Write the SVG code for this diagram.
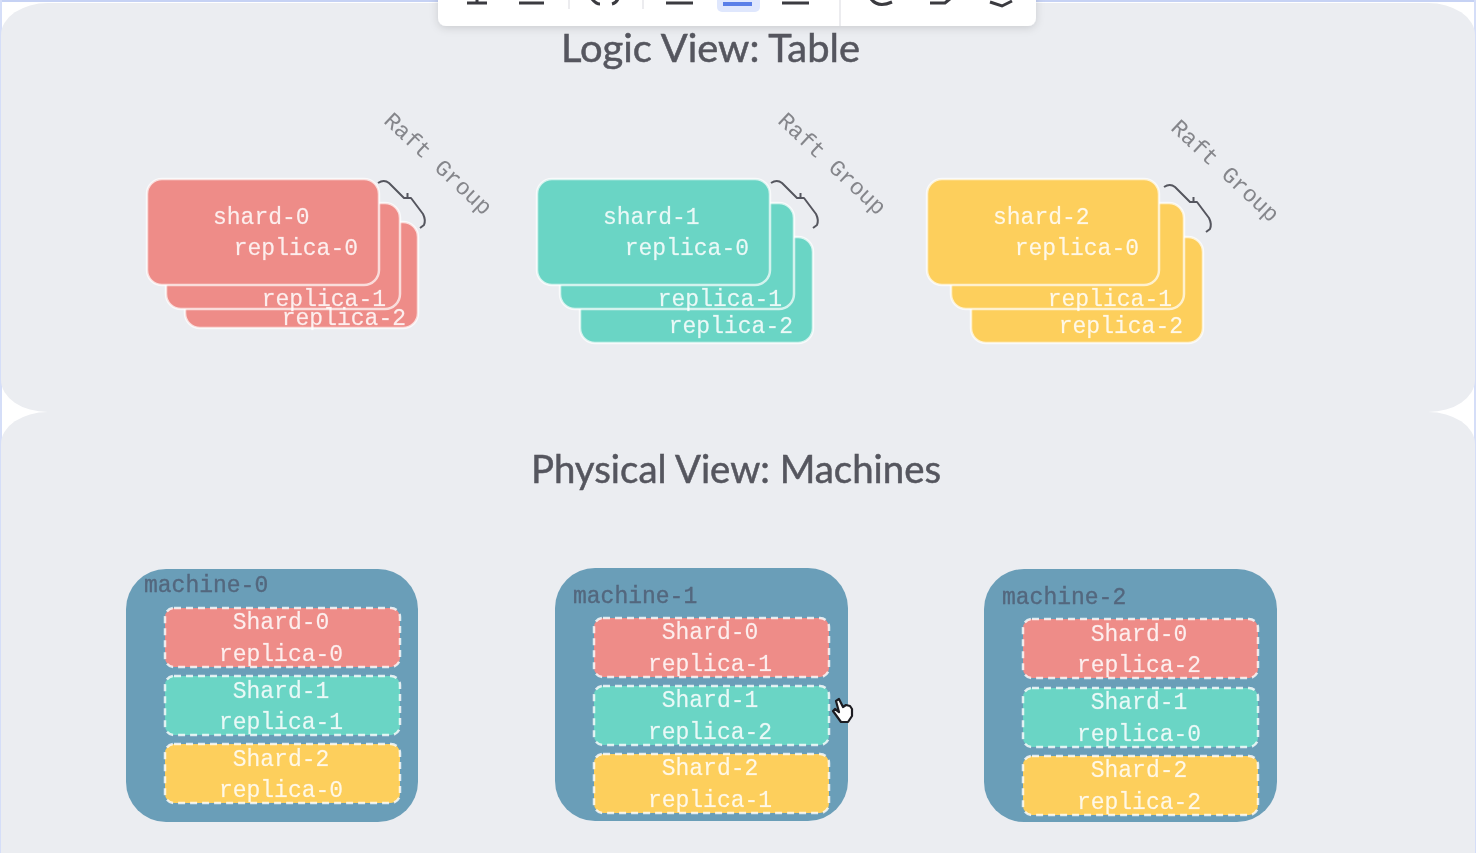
<svg xmlns="http://www.w3.org/2000/svg" width="1476" height="853" viewBox="0 0 1476 853">
<style>
.panel{fill:#ebedf1}
.title{font-family:"Lato","Noto Sans",sans-serif;font-size:38px;fill:#55565e;stroke:#55565e;stroke-width:.5;text-anchor:middle}
.m{font-family:"Liberation Mono",monospace;font-size:23px;fill:#fff;fill-opacity:.85;stroke:#fff;stroke-opacity:.35;stroke-width:.35}
.mid{text-anchor:middle}
.end{text-anchor:end}
.raft{font-family:"Liberation Mono",monospace;font-size:23px;fill:#85868b;text-anchor:middle}
.card{stroke:#fff;stroke-opacity:.7;stroke-width:2.5}
.red{fill:#ee8c88}.teal{fill:#6bd5c5}.yellow{fill:#fdcf5b}
.machine{fill:#6b9eb8}
.mlabel{font-family:"Liberation Mono",monospace;font-size:23px;fill:#53677e;stroke:#53677e;stroke-width:.35}
.slot{stroke:#fff;stroke-opacity:.8;stroke-width:2.5;stroke-dasharray:7 5}
.brace{fill:none;stroke:#55565e;stroke-width:2;stroke-linejoin:round}
.icon{fill:none;stroke:#3a3a40;stroke-width:3}
</style>
<defs>
<filter id="soft" x="-2%" y="-2%" width="104%" height="104%"><feGaussianBlur stdDeviation="0.75"/></filter>
<filter id="sh" x="-5%" y="-50%" width="110%" height="200%"><feDropShadow dx="0" dy="2" stdDeviation="4" flood-color="#000" flood-opacity=".14"/></filter>
<path id="brace" d="M378,183Q384,179 389,183L404,198H411L423,214Q426,220 424,225L420,228M407.5,198V193"/>
</defs>
<rect width="1476" height="853" fill="#fff"/>
<g filter="url(#soft)">
<rect x="0" y="0" width="1476" height="2" fill="#c6d2f4"/>
<rect x="0" y="0" width="2" height="853" fill="#d5def8"/>
<rect x="1474" y="0" width="2" height="853" fill="#d5def8"/>
<g id="panel-logic"><rect class="panel" x="1" y="3" width="1474" height="409" rx="47" ry="32"/></g>
<g id="panel-physical"><rect class="panel" x="1" y="412" width="1474" height="480" rx="47" ry="32"/></g>

<g id="toolbar">
<rect x="438" y="-20" width="598" height="46" rx="8" fill="#fff" filter="url(#sh)"/>
<rect x="717" y="-6" width="43" height="18" rx="5" fill="#dfe7fd"/>
<path class="icon" d="M467,3H487M477,-3V3M519,3H544M592,-1Q596,4 600,4M612,4Q616,3 618,-1M666,3H693M782,3H809M871,-1Q878,8 892,2M930,3L945,3L951,-2M990,2L1002,6L1012,1"/>
<path d="M723,2H752V6H723Z" fill="#5a7fe8"/>
<path d="M569,0V9M643,0V9M840,0V26" stroke="#e6e6ea" stroke-width="1.5"/>
</g>

<text class="title" x="710.5" y="62" textLength="299" lengthAdjust="spacingAndGlyphs">Logic View: Table</text>
<text class="title" x="736" y="483" textLength="410" lengthAdjust="spacingAndGlyphs">Physical View: Machines</text>

<g id="connectors">
<use id="brace-0" class="brace" href="#brace"/>
<use id="brace-1" class="brace" href="#brace" transform="translate(393,0)"/>
<use id="brace-2" class="brace" href="#brace" transform="translate(786,4)"/>
</g>

<g id="group-shard-0">
<rect class="card red" x="185" y="222" width="233" height="106" rx="15"/>
<rect class="card red" x="166" y="203" width="234" height="106" rx="15"/>
<rect class="card red" x="147" y="179" width="232" height="106" rx="15"/>
<text class="m" x="213" y="224">shard-0</text>
<text class="m end" x="358" y="255">replica-0</text>
<text class="m end" x="386" y="306">replica-1</text>
<text class="m end" x="406" y="325">replica-2</text>
<text class="raft" transform="rotate(43 438 164)" x="438" y="171">Raft Group</text>
</g>
<g id="group-shard-1">
<rect class="card teal" x="580" y="237" width="233" height="106" rx="15"/>
<rect class="card teal" x="560" y="203" width="234" height="106" rx="15"/>
<rect class="card teal" x="537" y="179" width="233" height="106" rx="15"/>
<text class="m" x="603" y="224">shard-1</text>
<text class="m end" x="749" y="255">replica-0</text>
<text class="m end" x="782" y="306">replica-1</text>
<text class="m end" x="793" y="333">replica-2</text>
<text class="raft" transform="rotate(43 832 164)" x="832" y="171">Raft Group</text>
</g>
<g id="group-shard-2">
<rect class="card yellow" x="971" y="237" width="232" height="106" rx="15"/>
<rect class="card yellow" x="951" y="203" width="233" height="106" rx="15"/>
<rect class="card yellow" x="927" y="179" width="232" height="106" rx="15"/>
<text class="m" x="993" y="224">shard-2</text>
<text class="m end" x="1139" y="255">replica-0</text>
<text class="m end" x="1172" y="306">replica-1</text>
<text class="m end" x="1183" y="333">replica-2</text>
<text class="raft" transform="rotate(43 1225 171)" x="1225" y="178">Raft Group</text>
</g>

<g id="machine-0">
<rect class="machine" x="126" y="569" width="292" height="253" rx="40"/>
<text class="mlabel" x="144" y="592">machine-0</text>
<rect class="slot red" x="165" y="608" width="235" height="59" rx="9"/>
<text class="m mid" x="281" y="629">Shard-0</text><text class="m mid" x="281" y="661">replica-0</text>
<rect class="slot teal" x="165" y="676" width="235" height="59" rx="9"/>
<text class="m mid" x="281" y="698">Shard-1</text><text class="m mid" x="281" y="729">replica-1</text>
<rect class="slot yellow" x="165" y="744" width="235" height="59" rx="9"/>
<text class="m mid" x="281" y="766">Shard-2</text><text class="m mid" x="281" y="797">replica-0</text>
</g>
<g id="machine-1">
<rect class="machine" x="555" y="568" width="293" height="253" rx="40"/>
<text class="mlabel" x="573" y="603">machine-1</text>
<rect class="slot red" x="594" y="618" width="235" height="59" rx="9"/>
<text class="m mid" x="710" y="639">Shard-0</text><text class="m mid" x="710" y="671">replica-1</text>
<rect class="slot teal" x="594" y="686" width="235" height="59" rx="9"/>
<text class="m mid" x="710" y="707">Shard-1</text><text class="m mid" x="710" y="739">replica-2</text>
<rect class="slot yellow" x="594" y="754" width="235" height="59" rx="9"/>
<text class="m mid" x="710" y="775">Shard-2</text><text class="m mid" x="710" y="807">replica-1</text>
</g>
<g id="machine-2">
<rect class="machine" x="984" y="569" width="293" height="253" rx="40"/>
<text class="mlabel" x="1002" y="604">machine-2</text>
<rect class="slot red" x="1023" y="619" width="235" height="59" rx="9"/>
<text class="m mid" x="1139" y="641">Shard-0</text><text class="m mid" x="1139" y="672">replica-2</text>
<rect class="slot teal" x="1023" y="688" width="235" height="59" rx="9"/>
<text class="m mid" x="1139" y="709">Shard-1</text><text class="m mid" x="1139" y="741">replica-0</text>
<rect class="slot yellow" x="1023" y="756" width="235" height="59" rx="9"/>
<text class="m mid" x="1139" y="777">Shard-2</text><text class="m mid" x="1139" y="809">replica-2</text>
</g>

<path id="cursor" d="M836,701L839,699L843,707L846,705L850,706L852,709V716L848,722H841L833,711L835,709L839,712Z" fill="#fff" stroke="#1d1d22" stroke-width="2.2" stroke-linejoin="round"/>
</g>
</svg>
